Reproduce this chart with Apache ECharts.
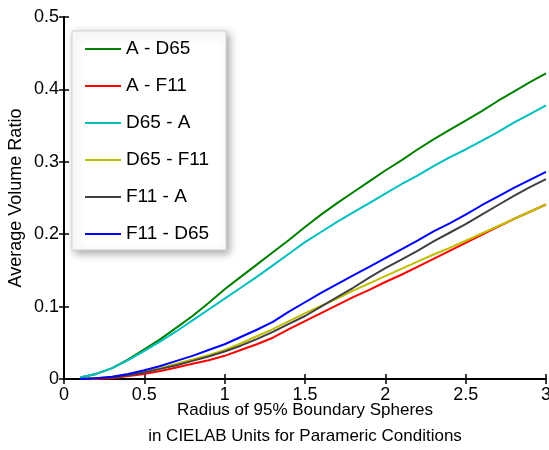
<!DOCTYPE html>
<html>
<head>
    <meta charset="utf-8">
    <title>Average Volume Ratio</title>
    <script src="https://cdn.jsdelivr.net/npm/echarts@6/dist/echarts.min.js"></script>
    <style>
        html, body { margin: 0; padding: 0; background: #fff; }
        #chart { width: 549px; height: 450px; }
    </style>
</head>
<body>
<div id="chart"></div>
<script>
  // 横轴：球半径
  var radius = [0.1, 0.2, 0.3, 0.4, 0.5, 0.6, 0.7, 0.8, 0.9, 1.0,
                1.1, 1.2, 1.3, 1.4, 1.5, 1.6, 1.7, 1.8, 1.9, 2.0,
                2.1, 2.2, 2.3, 2.4, 2.5, 2.6, 2.7, 2.8, 2.9, 3.0];

  var aD65 = [0.002, 0.007, 0.015, 0.027, 0.041, 0.055, 0.071, 0.087, 0.105, 0.124,
              0.141, 0.158, 0.175, 0.192, 0.210, 0.227, 0.243, 0.258, 0.273, 0.288,
              0.302, 0.317, 0.331, 0.344, 0.357, 0.370, 0.384, 0.397, 0.410, 0.422];
  var aF11 = [0.000, 0.000, 0.001, 0.004, 0.007, 0.011, 0.016, 0.021, 0.026, 0.032,
              0.040, 0.048, 0.057, 0.069, 0.080, 0.091, 0.102, 0.113, 0.123, 0.134,
              0.144, 0.155, 0.166, 0.177, 0.188, 0.199, 0.210, 0.221, 0.231, 0.241];
  var d65A = [0.002, 0.007, 0.015, 0.026, 0.039, 0.052, 0.066, 0.081, 0.096, 0.111,
              0.126, 0.141, 0.157, 0.173, 0.189, 0.203, 0.217, 0.230, 0.243, 0.256,
              0.269, 0.281, 0.294, 0.306, 0.317, 0.329, 0.341, 0.354, 0.366, 0.378];
  var d65F11 = [0.000, 0.001, 0.003, 0.006, 0.010, 0.015, 0.021, 0.027, 0.033, 0.040,
                0.049, 0.059, 0.069, 0.080, 0.091, 0.101, 0.111, 0.122, 0.132, 0.142,
                0.152, 0.162, 0.172, 0.181, 0.191, 0.201, 0.211, 0.221, 0.231, 0.241];
  var f11A = [0.000, 0.001, 0.002, 0.005, 0.009, 0.014, 0.019, 0.025, 0.031, 0.038,
              0.046, 0.055, 0.065, 0.076, 0.087, 0.100, 0.113, 0.126, 0.140, 0.153,
              0.165, 0.177, 0.190, 0.202, 0.214, 0.227, 0.240, 0.253, 0.265, 0.276];
  var f11D65 = [0.000, 0.001, 0.003, 0.007, 0.012, 0.018, 0.025, 0.032, 0.040, 0.048,
                0.058, 0.068, 0.079, 0.093, 0.106, 0.119, 0.131, 0.143, 0.155, 0.167,
                0.179, 0.191, 0.204, 0.215, 0.227, 0.240, 0.252, 0.264, 0.275, 0.286];

  var names = ['A - D65', 'A - F11', 'D65 - A', 'D65 - F11', 'F11 - A', 'F11 - D65'];
  var values = [aD65, aF11, d65A, d65F11, f11A, f11D65];
  var colors = ['#008000', '#ff0000', '#00bfbf', '#bfbf00', '#404040', '#0000ff'];

  var font = 'Liberation Sans, Arial, Helvetica, sans-serif';

  function pairs(ys) {
      return radius.map(function (x, i) { return [x, ys[i]]; });
  }

  var myChart = echarts.init(document.getElementById('chart'));

  var axisLine = { show: true, lineStyle: { color: '#000', width: 2 } };
  var tick = { show: true, inside: true, length: 5, lineStyle: { color: '#000', width: 1.5 } };

  myChart.setOption({
      animation: false,
      backgroundColor: '#fff',
      textStyle: { fontFamily: font },
      grid: { left: 64, right: 3, top: 17, bottom: 71, containLabel: false, outerBoundsMode: 'none' },
      legend: {
          orient: 'vertical',
          left: 72,
          top: 31,
          data: names,
          icon: 'rect',
          itemWidth: 36,
          itemHeight: 2,
          itemGap: 17,
          padding: [8, 17, 6, 13],
          backgroundColor: '#fff',
          borderColor: '#d0d0d0',
          borderWidth: 1,
          shadowBlur: 8,
          shadowOffsetX: 3,
          shadowOffsetY: 3,
          shadowColor: 'rgba(0,0,0,0.35)',
          textStyle: { fontSize: 19, lineHeight: 20, color: '#000', fontFamily: font }
      },
      xAxis: [{
          type: 'value',
          min: 0, max: 3, interval: 0.5,
          axisLine: axisLine,
          axisTick: tick,
          splitLine: { show: false },
          axisLabel: { color: '#000', fontSize: 18, margin: 7 },
          name: 'Radius of 95% Boundary Spheres\nin CIELAB Units for Parameric Conditions',
          nameLocation: 'middle',
          nameGap: 18,
          nameMoveOverlap: false,
          nameTextStyle: { color: '#000', fontSize: 17, lineHeight: 26 }
      }, {
          type: 'value',
          position: 'top',
          min: 0, max: 3, interval: 0.5,
          axisLine: axisLine,
          axisTick: tick,
          axisLabel: { show: false },
          splitLine: { show: false }
      }],
      yAxis: [{
          type: 'value',
          min: 0, max: 0.5, interval: 0.1,
          axisLine: axisLine,
          axisTick: tick,
          splitLine: { show: false },
          axisLabel: { color: '#000', fontSize: 18, margin: 5 },
          name: 'Average Volume Ratio',
          nameLocation: 'middle',
          nameGap: 39,
          nameMoveOverlap: false,
          nameTextStyle: { color: '#000', fontSize: 18 }
      }, {
          type: 'value',
          position: 'right',
          min: 0, max: 0.5, interval: 0.1,
          axisLine: axisLine,
          axisTick: tick,
          axisLabel: { show: false },
          splitLine: { show: false }
      }],
      series: names.map(function (n, i) {
          return {
              name: n,
              type: 'line',
              data: pairs(values[i]),
              showSymbol: false,
              symbol: 'none',
              color: colors[i],
              lineStyle: { color: colors[i], width: 2 }
          };
      })
  });
</script>
</body>
</html>
